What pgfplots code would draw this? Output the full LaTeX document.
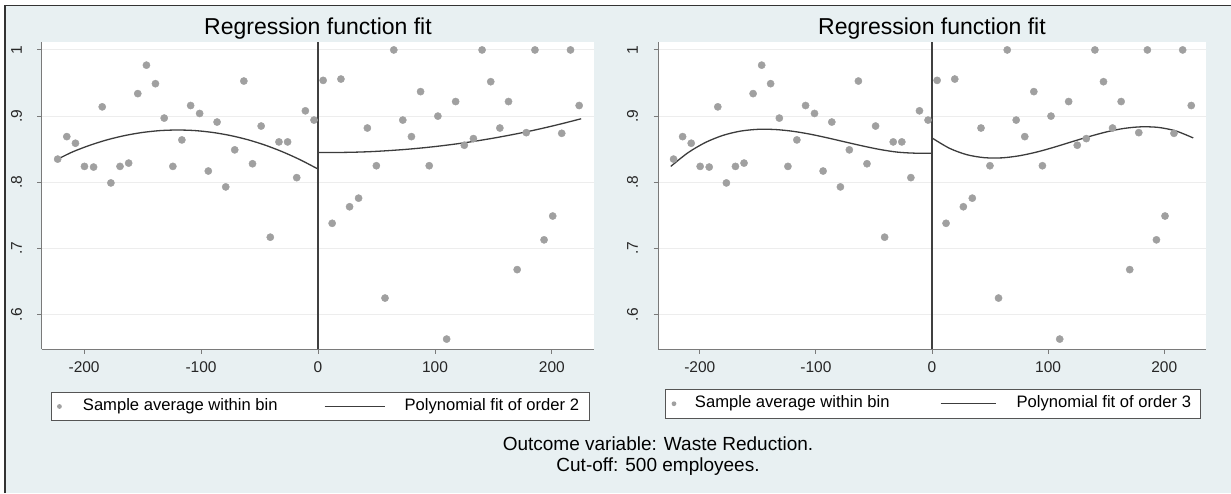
\documentclass[border=0pt]{standalone}
\usepackage{fontspec}
\setmainfont{Liberation Sans}
\usepackage{pgfplots}
\usepackage{pgfplotstable}
\pgfplotsset{compat=1.18}
\definecolor{bgc}{HTML}{E8F0F2}
\definecolor{markgray}{HTML}{A0A0A0}
\definecolor{curvec}{HTML}{3C3C3C}
\definecolor{gridc}{HTML}{EDEDED}
\definecolor{axisc}{HTML}{7A7A7A}
\definecolor{legendc}{HTML}{555555}

\pgfplotstableread{
x y
-222.6 0.835
-214.8 0.869
-207.4 0.859
-199.7 0.824
-191.9 0.823
-184.5 0.914
-177.1 0.799
-169.3 0.824
-161.9 0.829
-154.1 0.934
-146.7 0.977
-139.0 0.949
-131.5 0.897
-124.1 0.824
-116.4 0.864
-108.9 0.916
-101.2 0.904
-93.8 0.817
-86.3 0.891
-78.9 0.793
-71.2 0.849
-63.4 0.953
-56.0 0.828
-48.6 0.885
-40.8 0.717
-33.4 0.861
-26.0 0.861
-18.2 0.807
-10.8 0.908
-3.4 0.894
4.4 0.954
12.1 0.738
19.6 0.956
27.0 0.763
34.7 0.776
42.2 0.882
49.9 0.825
57.3 0.625
64.8 1.000
72.5 0.894
79.9 0.869
87.7 0.937
95.1 0.825
102.5 0.900
110.0 0.563
117.7 0.922
125.1 0.856
132.9 0.866
140.3 1.000
147.7 0.952
155.5 0.882
162.9 0.922
170.3 0.668
178.1 0.875
185.5 1.000
193.3 0.713
200.7 0.749
208.4 0.874
215.9 1.000
223.3 0.916
}\bins

\pgfplotstableread{
x y
-223 0.8345
-210 0.8458
-195 0.8560
-180 0.8643
-165 0.8707
-150 0.8753
-135 0.8781
-120 0.8790
-105 0.8781
-90 0.8753
-75 0.8707
-60 0.8643
-45 0.8560
-30 0.8458
-15 0.8338
0 0.8200
}\fitLtwo

\pgfplotstableread{
x y
0 0.8450
15 0.8450
30 0.8454
45 0.8463
60 0.8478
75 0.8497
90 0.8521
105 0.8550
120 0.8584
135 0.8623
150 0.8667
165 0.8716
180 0.8769
195 0.8828
210 0.8892
225 0.8960
}\fitRtwo

\pgfplotstableread{
x y
-225 0.8240
-210 0.8449
-195 0.8603
-180 0.8709
-165 0.8773
-150 0.8800
-135 0.8797
-120 0.8771
-105 0.8727
-90 0.8671
-75 0.8610
-60 0.8550
-45 0.8496
-30 0.8456
-15 0.8440
0 0.8440
}\fitLthree

\pgfplotstableread{
x y
0 0.8670
15 0.8514
30 0.8417
45 0.8372
60 0.8369
75 0.8400
90 0.8456
105 0.8529
120 0.8610
135 0.8689
150 0.8760
165 0.8813
180 0.8838
195 0.8829
210 0.8776
225 0.8670
}\fitRthree

\pgfplotsset{
  stata/.style={
    scale only axis,
    height=307pt,
    xmin=-236, xmax=236,
    ymin=0.548, ymax=1.012,
    axis lines=left,
    axis line style={-, color=axisc, line width=1pt},
    xtick={-200,-100,0,100,200},
    xticklabels={-200,-100,0,100,200},
    ytick={0.6,0.7,0.8,0.9,1},
    yticklabels={.6,.7,.8,.9,1},
    tick align=outside,
    major tick length=4.5pt,
    tick style={color=axisc, line width=0.9pt},
    ymajorgrids,
    grid style={color=gridc, line width=0.9pt},
    ticklabel style={font=\fontsize{15.5}{18}\selectfont, color=black!85},
    xticklabel shift=5pt,
    yticklabel shift=12pt,
    yticklabel style={rotate=90, anchor=south},
    every axis title/.style={at={(0.5,1)}, anchor=base, yshift=7.7pt, font=\fontsize{23}{27}\selectfont},
    title={Regression function fit},
    legend columns=2,
    legend cell align=left,
    legend style={anchor=north west, draw=legendc, line width=0.9pt, fill=white,
      inner xsep=0pt, inner ysep=6.3pt, column sep=0pt, row sep=0pt,
      font=\fontsize{16.6}{20}\selectfont,
      nodes={inner sep=0pt, text height=12.3pt, text depth=3.8pt}},
    clip=false,
  },
}

\begin{document}
\begin{tikzpicture}
\fill[white] (0,0) rectangle (1231pt,-493pt);
\useasboundingbox (0,0) rectangle (1231pt,-493pt);
\fill[bgc] (5pt,-5.7pt) rectangle (1231pt,-493pt);
\draw[color=black!80, line width=1.1pt] (5pt,-493pt) -- (5pt,-5.7pt) -- (1231pt,-5.7pt);

% ---------- left panel ----------
\begin{axis}[stata, at={(42pt,-349pt)}, anchor=south west, width=552pt,
  axis background/.style={fill=white},
  legend style={at={(0.0163,-0.139)}}]
\addplot[only marks, mark=*, mark size=3.6pt, color=markgray, mark options={draw=markgray, fill=markgray},
  legend image code/.code={\path[draw=none,fill=none] (0pt,-2pt) rectangle (31.5pt,2pt); \fill[markgray, draw=none] (8pt,0pt) circle (2.4pt);}]
  table[x=x, y=y] {\bins};
\addlegendentry{Sample average within bin}
\addplot[color=curvec, line width=1.3pt, smooth,
  legend image code/.code={\path[draw=none,fill=none] (0pt,-2pt) rectangle (127pt,2pt); \draw[curvec, line width=1.1pt] (47pt,0pt) -- (107pt,0pt);}]
  table[x=x, y=y] {\fitLtwo};
\addlegendentry{Polynomial fit of order 2\hspace*{10pt}}
\addplot[color=curvec, line width=1.3pt, smooth, forget plot] table[x=x, y=y] {\fitRtwo};
\addplot[color=black!75, line width=1.1pt, forget plot] coordinates {(0,0.548) (0,1.012)};
\end{axis}

% ---------- right panel ----------
\begin{axis}[stata, at={(658pt,-349pt)}, anchor=south west, width=548pt,
  axis background/.style={fill=white},
  legend style={at={(0.0128,-0.130)}}]
\addplot[only marks, mark=*, mark size=3.6pt, color=markgray, mark options={draw=markgray, fill=markgray},
  legend image code/.code={\path[draw=none,fill=none] (0pt,-2pt) rectangle (29.5pt,2pt); \fill[markgray, draw=none] (8.5pt,0pt) circle (2.4pt);}]
  table[x=x, y=y] {\bins};
\addlegendentry{Sample average within bin}
\addplot[color=curvec, line width=1.3pt, smooth,
  legend image code/.code={\path[draw=none,fill=none] (0pt,-2pt) rectangle (127pt,2pt); \draw[curvec, line width=1.1pt] (51pt,0pt) -- (106pt,0pt);}]
  table[x=x, y=y] {\fitLthree};
\addlegendentry{Polynomial fit of order 3\hspace*{9pt}}
\addplot[color=curvec, line width=1.3pt, smooth, forget plot] table[x=x, y=y] {\fitRthree};
\addplot[color=black!75, line width=1.1pt, forget plot] coordinates {(0,0.548) (0,1.012)};
\end{axis}

\node[font=\fontsize{19}{22}\selectfont, anchor=base] at (658pt,-450pt) {Outcome variable: Waste Reduction.};
\node[font=\fontsize{19}{22}\selectfont, anchor=base] at (658pt,-471.7pt) {Cut-off: 500 employees.};
\end{tikzpicture}
\end{document}
